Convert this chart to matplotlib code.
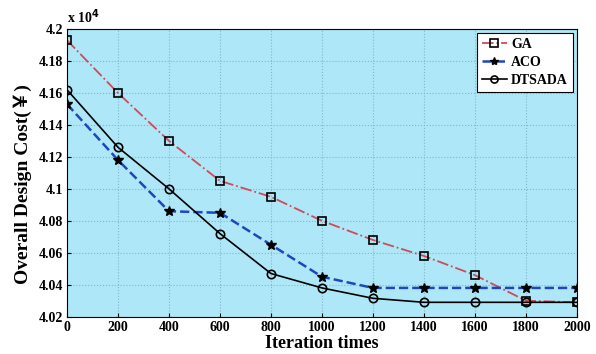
import matplotlib
matplotlib.use("Agg")
import matplotlib.pyplot as plt
from matplotlib.ticker import FuncFormatter, MultipleLocator

iterations = [0, 200, 400, 600, 800, 1000, 1200, 1400, 1600, 1800, 2000]
# cost values in units of 10^4 yuan
ga = [4.193, 4.160, 4.130, 4.105, 4.095, 4.080, 4.068, 4.058, 4.046, 4.030, 4.029]
aco = [4.153, 4.118, 4.086, 4.085, 4.065, 4.045, 4.038, 4.038, 4.038, 4.038, 4.038]
dtsada = [4.162, 4.126, 4.100, 4.072, 4.047, 4.038, 4.0315, 4.029, 4.029, 4.029, 4.029]

plt.rcParams['font.family'] = ['Liberation Serif', 'Noto Sans CJK SC']
plt.rcParams['font.weight'] = 'bold'

fig = plt.figure(figsize=(5.96, 3.54), dpi=100)
ax = fig.add_axes([0.1124, 0.1054, 0.8556, 0.8126])
ax.set_facecolor('#aee8f8')

ax.plot(iterations, ga, linestyle='-.', color='#d04a5a', lw=1.3,
        marker='s', markersize=6, markerfacecolor='none', markeredgecolor='black',
        markeredgewidth=1.2, label='GA')
ax.plot(iterations, aco, linestyle='--', color='#1f45c0', lw=1.8,
        marker='*', markersize=7, markerfacecolor='black', markeredgecolor='black',
        label='ACO')
ax.plot(iterations, dtsada, linestyle='-', color='black', lw=1.2,
        marker='o', markersize=6, markerfacecolor='none', markeredgecolor='black',
        markeredgewidth=1.2, label='DTSADA')

ax.set_xlim(0, 2000)
ax.set_ylim(4.02, 4.2)
ax.xaxis.set_major_locator(MultipleLocator(200))
ax.yaxis.set_major_locator(MultipleLocator(0.02))
ax.yaxis.set_major_formatter(FuncFormatter(lambda v, p: f"{v:g}"))
ax.grid(True, linestyle=':', color='#7fb8c8', lw=0.8)
ax.tick_params(direction='in', labelsize=10, length=3, pad=3)
for lab in ax.get_xticklabels() + ax.get_yticklabels():
    lab.set_fontweight('bold')
for s in ax.spines.values():
    s.set_linewidth(0.8)

ax.set_xlabel('Iteration times', fontsize=13, fontweight='bold', labelpad=1)
ax.set_ylabel('Overall Design Cost(￥)', fontsize=14, fontweight='bold', labelpad=3)
ax.yaxis.set_label_coords(-0.068, 0.46)
ax.text(0.0, 1.01, r'x 10$^{4}$', transform=ax.transAxes, fontsize=10,
        fontweight='bold', ha='left', va='bottom')

leg = ax.legend(loc='upper right', fontsize=10, frameon=True, fancybox=False,
                edgecolor='black', framealpha=1, handlelength=1.8,
                borderaxespad=0.3, labelspacing=0.35, borderpad=0.35, handletextpad=0.3,
                markerscale=0.85)
leg.get_frame().set_linewidth(0.8)
for t in leg.get_texts():
    t.set_fontweight('bold')

fig.savefig('out.png', dpi=100)
